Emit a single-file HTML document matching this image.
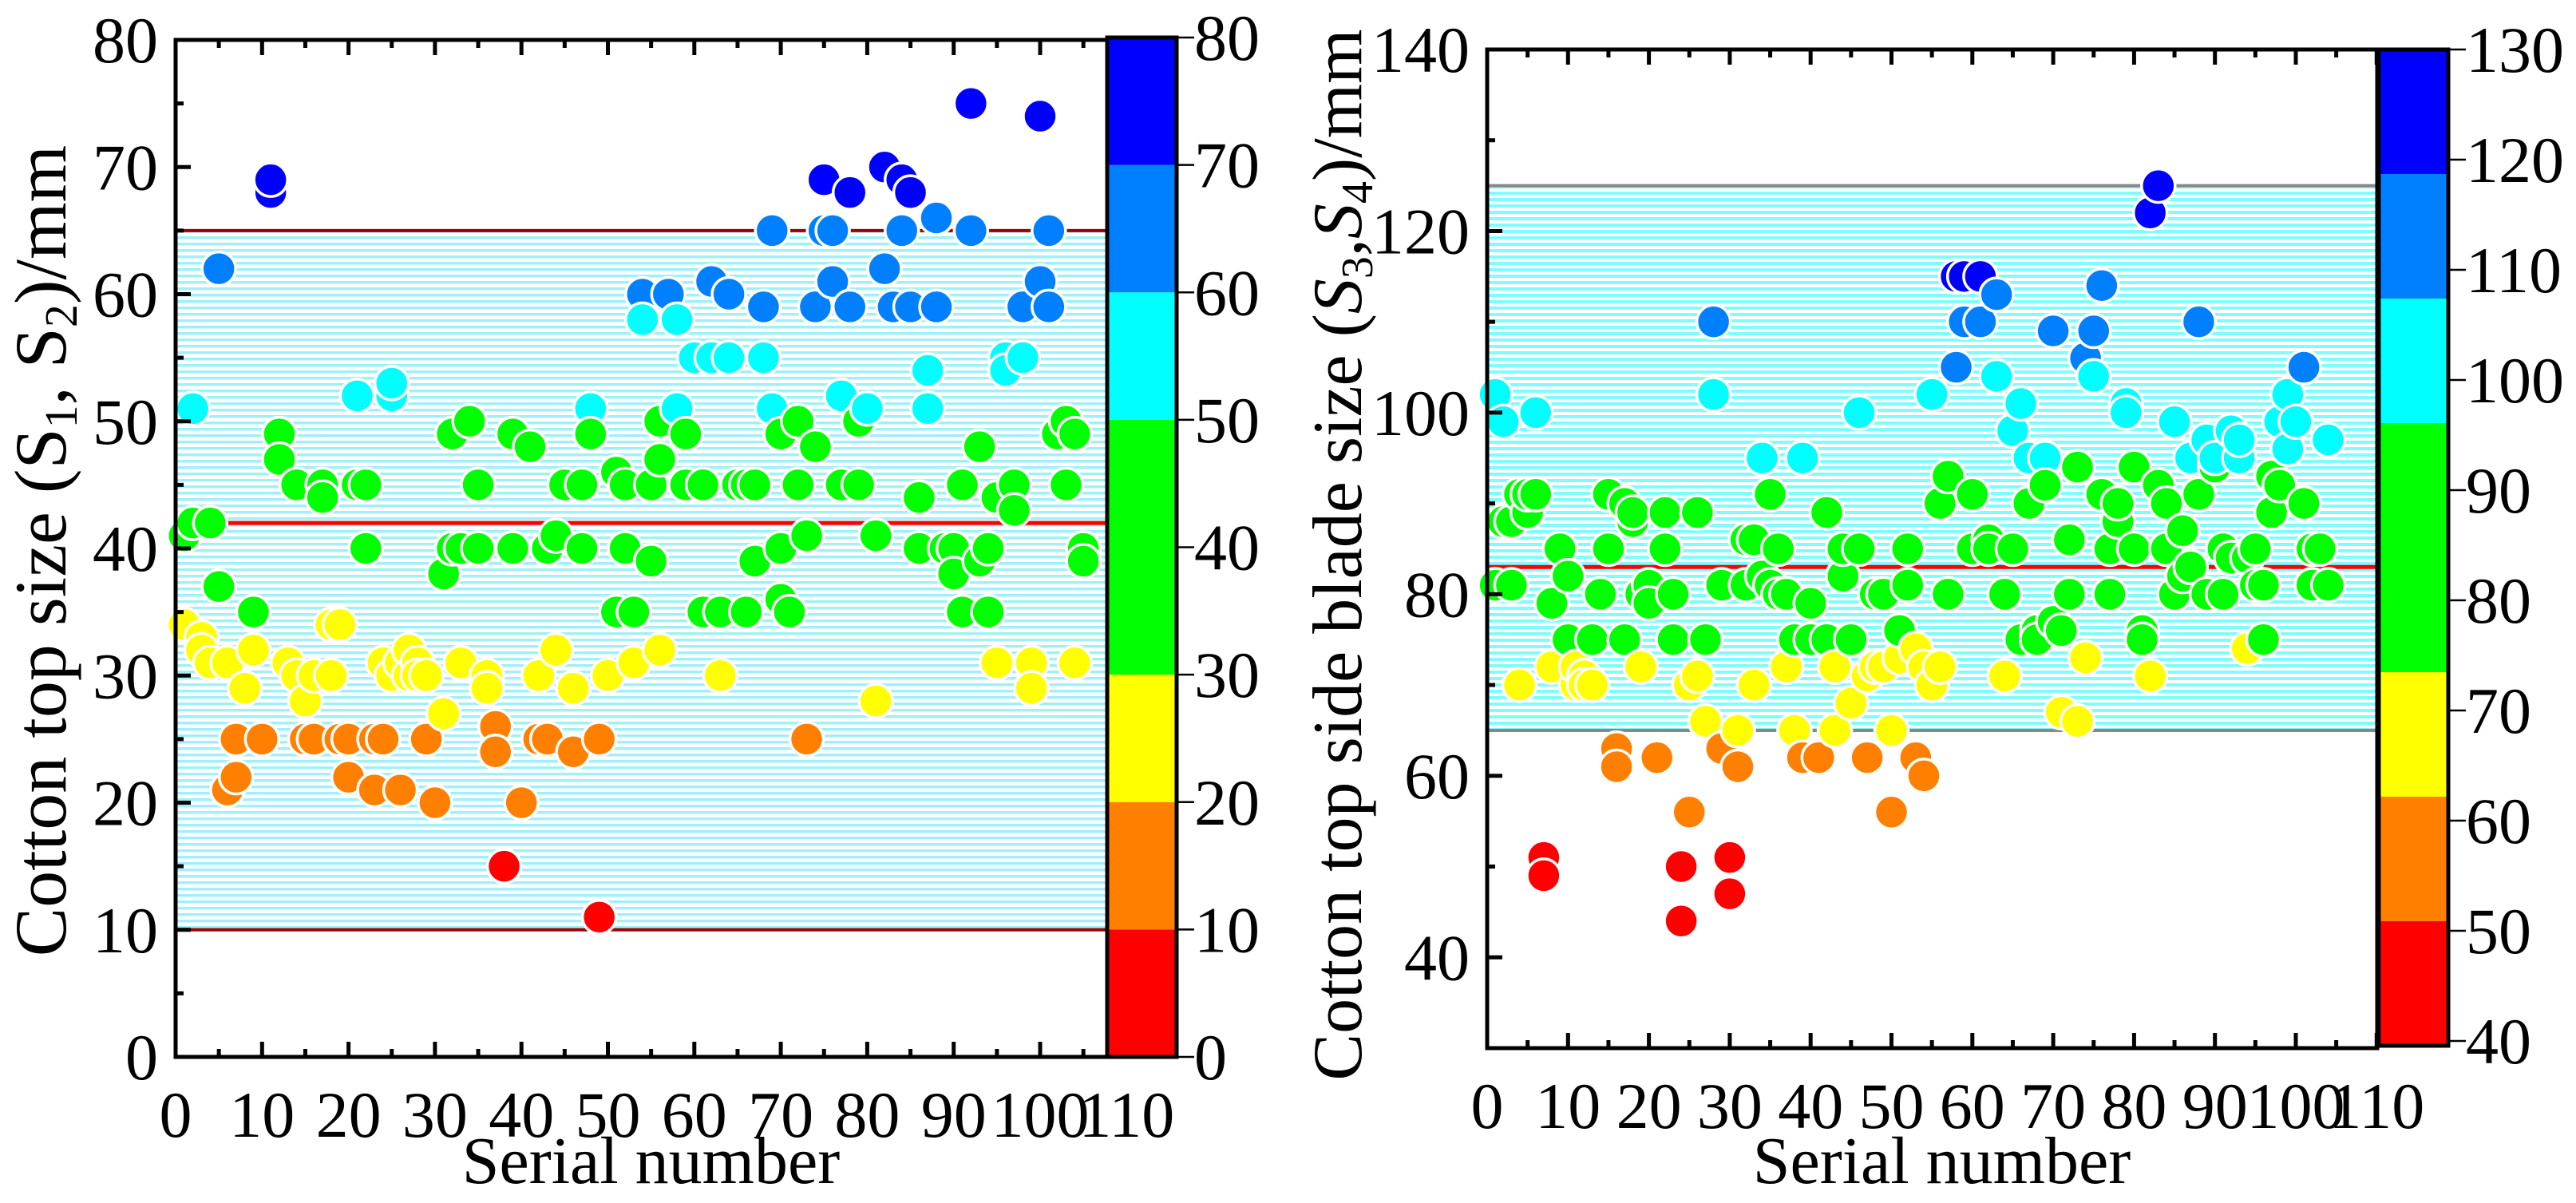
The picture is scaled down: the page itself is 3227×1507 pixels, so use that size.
<!DOCTYPE html>
<html><head><meta charset="utf-8"><style>
html,body{margin:0;padding:0;background:#fff;}
svg{display:block;}
text{font-family:"Liberation Serif","DejaVu Serif",serif;}
</style></head><body>
<svg id="root" width="3227" height="1507" viewBox="0 0 3227 1507" xmlns="http://www.w3.org/2000/svg" font-family="Liberation Serif, serif">
<defs>
<pattern id="hatchL" width="10" height="8" patternUnits="userSpaceOnUse"><rect width="10" height="8" fill="#fff"/><rect y="0" width="10" height="3.5" fill="#9ff0f8"/></pattern>
<pattern id="hatchR" width="10" height="8" patternUnits="userSpaceOnUse"><rect width="10" height="8" fill="#fff"/><rect y="0" width="10" height="4" fill="#7ffcff"/></pattern>
</defs>
<g id="left"></g>
<g id="right"></g>
</svg>
<script>
// ---- Left chart data ----
const leftSerial = [1,1,2,2,3,3,4,4,5,5,6,6,7,7,8,9,9,10,11,11,12,12,13,14,14,15,15,16,16,17,17,18,18,19,19,20,20,21,21,22,22,23,23,24,24,25,25,25,26,26,27,27,28,28,29,29,30,31,31,32,32,33,33,34,35,35,36,36,37,37,38,39,39,40,41,42,42,43,43,44,44,45,46,46,47,47,48,48,49,49,50,51,51,52,52,53,53,54,54,55,55,56,56,56,57,58,58,59,59,60,61,61,62,62,63,63,64,64,65,66,66,67,67,68,68,69,69,70,70,70,71,72,72,73,73,74,74,75,75,76,76,77,77,78,78,79,79,80,81,81,82,82,83,84,84,85,85,86,86,87,87,88,88,89,90,90,91,91,92,92,93,93,94,94,95,95,96,96,97,97,98,98,99,99,100,100,101,101,102,103,103,104,104,105,105];
const leftSize = [41,34,42,51,33,32,42,31,37,62,31,21,22,25,29,32,35,25,68,69,49,47,31,45,30,28,25,30,25,45,44,34,30,34,25,25,22,52,45,40,45,25,21,25,31,52,53,30,21,31,32,30,31,30,25,30,20,27,38,49,40,40,31,50,45,40,30,29,26,24,15,40,49,20,48,25,30,25,40,32,41,45,24,29,45,40,51,49,25,11,30,46,35,45,40,35,31,60,58,45,39,50,47,32,60,58,51,49,45,55,45,35,61,55,35,30,60,55,45,45,35,39,45,59,55,65,51,49,36,40,35,50,45,41,25,48,59,69,65,61,65,52,45,68,59,50,45,51,41,28,70,62,59,69,65,68,59,44,40,54,51,66,59,40,40,38,45,35,75,65,48,39,40,35,44,31,55,54,45,43,55,59,31,29,74,61,65,59,49,50,45,49,31,40,39];
const leftYTicks = [0,10,20,30,40,50,60,70,80];
const leftXTicks = [0,10,20,30,40,50,60,70,80,90,100,110];
const leftBand = [10,65];
const leftMean = [42];
const leftCbTicks = [0,10,20,30,40,50,60,70,80];

// ---- Right chart data ----
const rightSerial = [1,1,2,2,3,3,4,4,5,5,6,6,7,7,8,8,9,10,10,11,11,12,12,13,13,14,15,15,16,16,17,17,18,18,19,19,20,20,21,22,22,23,23,24,24,25,25,26,26,27,27,28,28,29,29,30,30,31,31,32,32,33,33,34,34,35,35,36,36,37,37,38,38,39,39,40,40,41,42,42,43,43,44,44,45,45,46,46,47,47,48,48,49,49,50,50,51,51,52,52,53,53,54,54,55,55,56,56,57,57,58,58,59,59,60,60,61,61,62,62,63,63,64,64,65,65,66,66,67,67,68,68,69,69,70,70,71,71,72,72,73,73,74,74,75,75,76,76,77,77,78,78,79,79,80,80,81,81,82,82,83,83,84,84,85,85,86,86,87,87,88,88,89,89,90,90,91,91,92,92,93,93,94,94,95,95,96,96,97,97,98,98,99,99,100,101,101,102,102,103,104,104];
const rightSize = [102,81,99,88,88,81,91,70,89,91,100,91,51,49,79,72,85,82,75,70,72,71,70,75,70,80,91,85,63,61,90,75,88,89,72,80,81,79,62,89,85,80,75,50,44,70,56,71,89,75,66,110,102,81,63,51,47,65,61,86,81,70,86,95,82,91,81,85,80,72,80,75,65,62,95,79,75,62,89,75,72,65,82,85,75,68,100,85,62,71,80,72,80,72,65,56,73,76,85,81,74,62,72,60,70,102,72,90,80,93,105,115,110,115,91,85,115,110,86,85,113,104,80,71,98,85,101,75,95,90,76,75,95,92,109,77,76,67,80,86,94,66,73,106,104,109,114,91,85,80,88,90,101,100,94,85,76,75,71,122,125,92,85,90,99,80,82,87,95,83,91,110,97,80,94,95,85,80,98,84,95,97,74,84,85,81,75,81,89,93,92,99,96,102,99,105,90,85,81,85,97,81];
const rightYTicks = [40,60,80,100,120,140];
const rightXTicks = [0,10,20,30,40,50,60,70,80,90,100,110];
const rightBand = [65,125];
const rightMean = [83];
const rightCbTicks = [40,50,60,70,80,90,100,110,120,130];

const COLORS = ['#ff0000','#ff8000','#ffff00','#00ff00','#00ffff','#0080ff','#0000ff'];
const NS = 'http://www.w3.org/2000/svg';
const FONT = 'Liberation Serif, DejaVu Serif, serif';
function mk(parent, tag, attrs, text){
  const e = document.createElementNS(NS, tag);
  for (const k in attrs) e.setAttribute(k, attrs[k]);
  if (tag === 'text') e.setAttribute('font-family', FONT);
  if (text !== undefined) e.textContent = text;
  parent.appendChild(e); return e;
}
function colorFor(v, th){ let i=0; while(i<th.length && v>=th[i]) i++; return COLORS[i]; }

function drawChart(g, cfg){
  const sx = v => cfg.x0 + v * cfg.pxX;
  const sy = v => cfg.yBot - (v - cfg.ymin) * (cfg.yBot - cfg.yTop) / (cfg.ymax - cfg.ymin);
  const band = mk(g,'rect',{x:cfg.x0,y:sy(cfg.band[1]),width:cfg.x1-cfg.x0,height:sy(cfg.band[0])-sy(cfg.band[1]),fill:cfg.hatch});
  
  
  for (const b of cfg.band){
    const l = mk(g,'line',{x1:cfg.x0,x2:cfg.x1,y1:sy(b),y2:sy(b),stroke:cfg.bandColor,'stroke-width':4});
    
    
  }
  const m = mk(g,'line',{x1:cfg.x0,x2:cfg.x1,y1:sy(cfg.mean[0]),y2:sy(cfg.mean[0]),stroke:'#ff0000','stroke-width':5});
  
  
  for (let i=0;i<cfg.xs.length;i++){
    const c = mk(g,'circle',{cx:sx(cfg.xs[i]),cy:sy(cfg.ys[i]),r:21,fill:colorFor(cfg.ys[i],cfg.th),stroke:'#fff','stroke-width':3.5});
    
    
  }
  const fr = mk(g,'rect',{x:cfg.x0,y:cfg.yTop,width:cfg.x1-cfg.x0,height:cfg.yBot-cfg.yTop,fill:'none',stroke:'#000','stroke-width':5});
  
  
  for (const t of cfg.xticks){
    const x = sx(t);
    if (x <= cfg.x1+2){
      mk(g,'line',{x1:x,x2:x,y1:cfg.yBot,y2:cfg.yBot-19,stroke:'#000','stroke-width':5});
      mk(g,'line',{x1:x,x2:x,y1:cfg.yTop,y2:cfg.yTop+19,stroke:'#000','stroke-width':5});
      const xm = sx(t+5);
      if (xm < cfg.x1-2){
        mk(g,'line',{x1:xm,x2:xm,y1:cfg.yBot,y2:cfg.yBot-10,stroke:'#000','stroke-width':5});
        mk(g,'line',{x1:xm,x2:xm,y1:cfg.yTop,y2:cfg.yTop+10,stroke:'#000','stroke-width':5});
      }
    }
    const tl = mk(g,'text',{x:x,y:cfg.yBot+100,'font-size':82,'text-anchor':'middle'},String(t));
    
    
  }
  for (const t of cfg.yticks){
    const y = sy(t);
    mk(g,'line',{x1:cfg.x0,x2:cfg.x0+19,y1:y,y2:y,stroke:'#000','stroke-width':5});
    const ym = sy(t + cfg.ystep/2);
    if (t + cfg.ystep/2 < cfg.ymax) mk(g,'line',{x1:cfg.x0,x2:cfg.x0+10,y1:ym,y2:ym,stroke:'#000','stroke-width':5});
    const yl = mk(g,'text',{x:cfg.x0-22,y:y+28,'font-size':82,'text-anchor':'end'},String(t));
    
    
  }
  if (cfg.ymin < cfg.yticks[0]){
    for (let v=cfg.yticks[0]-cfg.ystep/2; v>cfg.ymin; v-=cfg.ystep/2){
      mk(g,'line',{x1:cfg.x0,x2:cfg.x0+10,y1:sy(v),y2:sy(v),stroke:'#000','stroke-width':5});
    }
  }
  const cb = cfg.cb;
  const bh = (cb.yBot - cb.yTop)/ (cb.units);
  for (let i=0;i<cb.blocks.length;i++){
    const b = cb.blocks[i];
    const r = mk(g,'rect',{x:cb.x0,y:cb.yBot - b[1]*bh,width:cb.x1-cb.x0,height:(b[1]-b[0])*bh,fill:b[2]});
    
    
  }
  const cf = mk(g,'rect',{x:cb.x0,y:cb.yTop,width:cb.x1-cb.x0,height:cb.yBot-cb.yTop,fill:'none',stroke:'#000','stroke-width':5});
  
  
  for (const t of cb.ticks){
    const y = cb.tyBot - (t-cb.tmin)*(cb.tyBot-cb.tyTop)/(cb.tmax-cb.tmin);
    mk(g,'line',{x1:cb.x1,x2:cb.x1+22,y1:y,y2:y,stroke:'#000','stroke-width':2.5});
    const cl = mk(g,'text',{x:cb.x1+22,y:y+28,'font-size':82},String(t));
    
    
  }
  const xt = mk(g,'text',{x:(cfg.x0+cfg.x1)/2+12,y:1482,'font-size':84,'text-anchor':'middle'},'Serial number');
  
  
  const yt = mk(g,'text',{x:0,y:0,'font-size':cfg.ytFont,'text-anchor':'middle',transform:'translate('+cfg.ytX+','+cfg.ytY+') rotate(-90)'});
  
  
  yt.innerHTML = cfg.ytHtml;
}

drawChart(document.getElementById('left'), {
  x0:220, x1:1387, pxX:10.83, yTop:50, yBot:1324, ymin:0, ymax:80, ystep:10,
  xs:leftSerial, ys:leftSize, th:[17.5,27,34.5,50.5,58.5,67],
  xticks:leftXTicks, yticks:leftYTicks, band:leftBand, mean:leftMean,
  hatch:'url(#hatchL)', bandColor:'#a00000',
  cb:{x0:1387,x1:1474,yTop:47,yBot:1324,units:80,ticks:leftCbTicks,tmin:0,tmax:80,tyTop:47,tyBot:1324,
      blocks:[[0,10,COLORS[0]],[10,20,COLORS[1]],[20,30,COLORS[2]],[30,50,COLORS[3]],[50,60,COLORS[4]],[60,70,COLORS[5]],[70,80,COLORS[6]]]},
  ytX:82, ytY:690, ytFont:92,
  ytHtml:'Cotton top size (S<tspan font-size="58" dy="14">1</tspan><tspan dy="-14">, S</tspan><tspan font-size="58" dy="14">2</tspan><tspan dy="-14">)/mm</tspan>'
});
drawChart(document.getElementById('right'), {
  x0:1863, x1:2978, pxX:10.13, yTop:62, yBot:1313, ymin:30, ymax:140, ystep:20,
  xs:rightSerial, ys:rightSize, th:[52,64,74.5,94.5,104.5,114.5],
  xticks:rightXTicks, yticks:rightYTicks, band:rightBand, mean:rightMean,
  hatch:'url(#hatchR)', bandColor:'#888888',
  cb:{x0:2980,x1:3067,yTop:62,yBot:1310,units:8,ticks:rightCbTicks,tmin:40,tmax:130,tyTop:62,tyBot:1304,
      blocks:[[0,1,COLORS[0]],[1,2,COLORS[1]],[2,3,COLORS[2]],[3,5,COLORS[3]],[5,6,COLORS[4]],[6,7,COLORS[5]],[7,8,COLORS[6]]]},
  ytX:1705, ytY:695, ytFont:88,
  ytHtml:'Cotton top side blade size (<tspan font-style="italic">S</tspan><tspan font-size="56" dy="14">3</tspan><tspan dy="-14">,</tspan><tspan font-style="italic">S</tspan><tspan font-size="56" dy="14">4</tspan><tspan dy="-14">)/mm</tspan>'
});
</script>
</body></html>
